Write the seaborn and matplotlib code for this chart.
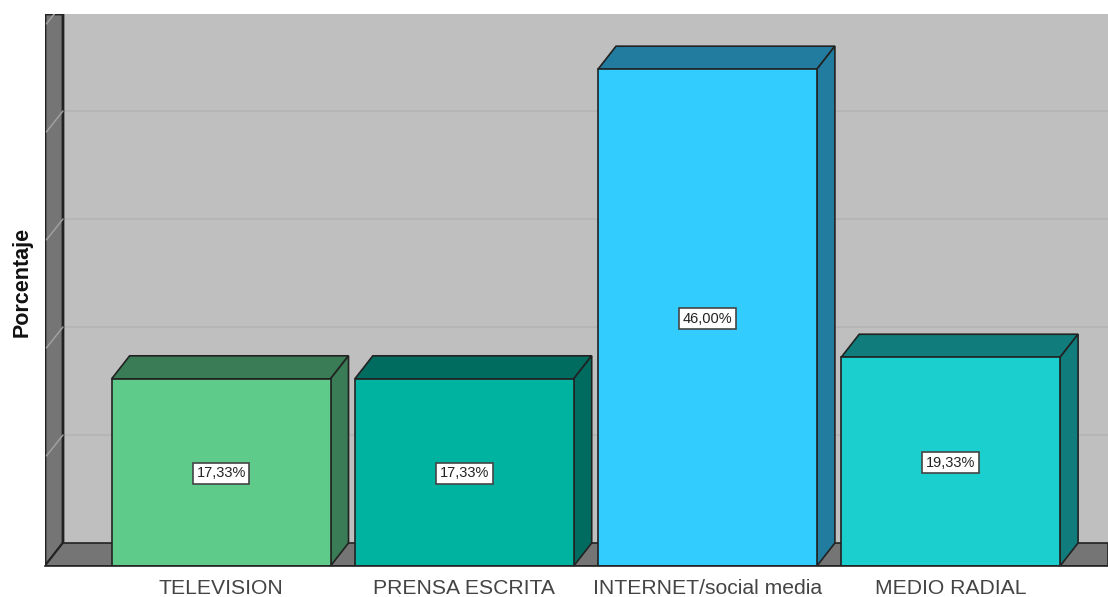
import matplotlib
matplotlib.use("Agg")
import matplotlib.pyplot as plt
from matplotlib.patches import Polygon
from pandas import DataFrame
import seaborn as sns

# ========= Data =========
categories = ["TELEVISION", "PRENSA ESCRITA", "INTERNET/social media", "MEDIO RADIAL"]
percentages = [17.33, 17.33, 46.00, 19.33]
value_labels = ["17,33%", "17,33%", "46,00%", "19,33%"]
grid_values = [10, 20, 30, 40, 50]

front_colors = ["#5ECB8B", "#00B3A0", "#33CCFF", "#1BCFCF"]
side_colors = ["#3A7C55", "#006C60", "#217CA0", "#107C7C"]

# 3D depth of the fake box, in axis units
depth_x = 0.074
depth_y = 2.13
edge = "#222222"

sns.set_theme(style="white")
plt.rcParams['font.family'] = ['Liberation Sans', 'DejaVu Sans']

df = DataFrame({"medio": categories, "porcentaje": percentages})

fig = plt.figure(figsize=(11.08, 5.97), dpi=100)
ax = fig.add_axes([45 / 1108, 1 - 566 / 597, (1108 - 45) / 1108, (566 - 14) / 597])
ax.set_facecolor("#BFBFBF")

sns.barplot(data=df, x="medio", y="porcentaje", hue="medio", palette=front_colors,
            order=categories, hue_order=categories, width=0.9, legend=False,
            edgecolor=edge, linewidth=1.2, saturation=1, ax=ax, zorder=5)

ax.set_xlim(-0.724, 3.647)
ax.set_ylim(0, 51.11)
left, right = ax.get_xlim()
top = ax.get_ylim()[1]

# back wall grid lines
for g in grid_values:
    ax.plot([left + depth_x, right], [g + depth_y, g + depth_y], color="#B3B3B3", lw=1.1, zorder=1)

# left wall and floor
ax.add_patch(Polygon([(left, 0), (left + depth_x, depth_y), (left + depth_x, top), (left, top)],
                     facecolor="#757575", edgecolor=edge, lw=2.0, zorder=2))
ax.add_patch(Polygon([(left, 0), (right, 0), (right, depth_y), (left + depth_x, depth_y)],
                     facecolor="#757575", edgecolor=edge, lw=1.2, zorder=2))
for g in grid_values:
    ax.plot([left + 0.006, left + depth_x], [g + 0.2, g + depth_y], color="#A0A0A0", lw=1.1, zorder=3)

# top and side faces of the bars, then the value boxes
for i, bar in enumerate(ax.patches[:len(categories)]):
    x0 = bar.get_x()
    x1 = x0 + bar.get_width()
    h = bar.get_height()
    ax.add_patch(Polygon([(x0, h), (x1, h), (x1 + depth_x, h + depth_y), (x0 + depth_x, h + depth_y)],
                         facecolor=side_colors[i], edgecolor=edge, lw=1.2, zorder=4))
    ax.add_patch(Polygon([(x1, 0), (x1 + depth_x, depth_y), (x1 + depth_x, h + depth_y), (x1, h)],
                         facecolor=side_colors[i], edgecolor=edge, lw=1.2, zorder=4))
    ax.text(x0 + bar.get_width() / 2, h / 2 - 0.1, value_labels[i], ha="center", va="center",
            fontsize=10.5, color="#222222", zorder=6,
            bbox=dict(boxstyle="square,pad=0.25", facecolor="white", edgecolor="#444444", linewidth=1.2))

ax.set_xlabel("")
ax.set_ylabel("")
ax.set_yticks([])
ax.tick_params(axis="x", length=0, pad=9, labelsize=15.2, labelcolor="#444444")
for name in ["top", "right", "left"]:
    ax.spines[name].set_visible(False)
ax.spines["bottom"].set_color(edge)
ax.spines["bottom"].set_linewidth(1.2)
ax.spines["bottom"].set_zorder(7)

fig.text(22 / 1108, 1 - 282 / 597, "Porcentaje", rotation=90, ha="center", va="center",
         fontsize=15.5, fontweight="bold", color="#111111")

fig.savefig("out.png", dpi=100)
